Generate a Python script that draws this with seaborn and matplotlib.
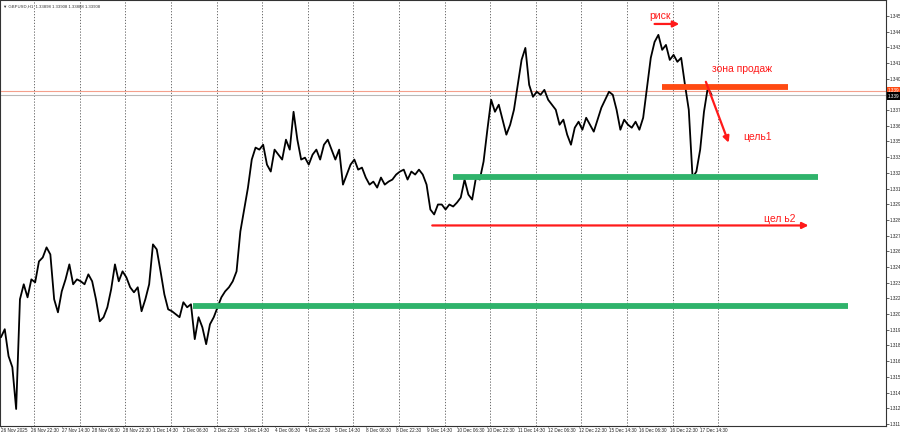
import math
import matplotlib
matplotlib.use('Agg')
import matplotlib.pyplot as plt
import matplotlib.transforms as mtransforms
import numpy as np
import pandas as pd
import seaborn as sns

# GBPUSD H1 closes, one value every 2 bars
CLOSE = [
    1.31883, 1.31950, 1.31725, 1.31633, 1.31284, 1.32200, 1.32325, 1.32216, 1.32366, 1.32341,
    1.32516, 1.32549, 1.32633, 1.32574, 1.32200, 1.32091, 1.32266, 1.32366, 1.32491, 1.32325,
    1.32366, 1.32350, 1.32325, 1.32408, 1.32350, 1.32200, 1.32016, 1.32050, 1.32133, 1.32283,
    1.32491, 1.32350, 1.32433, 1.32383, 1.32300, 1.32258, 1.32300, 1.32100, 1.32200, 1.32325,
    1.32658, 1.32616, 1.32433, 1.32241, 1.32116, 1.32100, 1.32075, 1.32050, 1.32175, 1.32133,
    1.32158, 1.31867, 1.32050, 1.31966, 1.31825, 1.31991, 1.32050, 1.32133, 1.32216, 1.32266,
    1.32300, 1.32350, 1.32433, 1.32766, 1.32949, 1.33132, 1.33366, 1.33466, 1.33449, 1.33490,
    1.33324, 1.33266, 1.33449, 1.33407, 1.33366, 1.33532, 1.33449, 1.33765, 1.33532, 1.33366,
    1.33382, 1.33324, 1.33407, 1.33449, 1.33366, 1.33490, 1.33532, 1.33449, 1.33366, 1.33449,
    1.33157, 1.33241, 1.33324, 1.33366, 1.33282, 1.33299, 1.33216, 1.33157, 1.33182, 1.33132,
    1.33216, 1.33157, 1.33182, 1.33199, 1.33241, 1.33266, 1.33282, 1.33199, 1.33266, 1.33241,
    1.33282, 1.33241, 1.33157, 1.32949, 1.32908, 1.32991, 1.32991, 1.32949, 1.32991, 1.32974,
    1.33007, 1.33049, 1.33199, 1.33074, 1.33032, 1.33216, 1.33199, 1.33349, 1.33615, 1.33865,
    1.33765, 1.33824, 1.33699, 1.33574, 1.33657, 1.33782, 1.33990, 1.34198, 1.34298, 1.33990,
    1.33890, 1.33932, 1.33907, 1.33948, 1.33865, 1.33824, 1.33782, 1.33657, 1.33699, 1.33574,
    1.33490, 1.33632, 1.33682, 1.33615, 1.33715, 1.33657, 1.33599, 1.33699, 1.33799, 1.33865,
    1.33932, 1.33907, 1.33782, 1.33615, 1.33699, 1.33657, 1.33632, 1.33682, 1.33615, 1.33715,
    1.33965, 1.34215, 1.34348, 1.34407, 1.34282, 1.34323, 1.34198, 1.34240, 1.34182, 1.34215,
    1.33990, 1.33782, 1.33216, 1.33266, 1.33449, 1.33765, 1.33965, 1.33907,
]
BAR_STEP = 2

X_LABELS = ['26 Nov 2025', '26 Nov 22:30', '27 Nov 14:30', '28 Nov 06:30', '28 Nov 22:30',
            '1 Dec 14:30', '2 Dec 06:30', '2 Dec 22:30', '3 Dec 14:30', '4 Dec 06:30',
            '4 Dec 22:30', '5 Dec 14:30', '8 Dec 06:30', '8 Dec 22:30', '9 Dec 14:30',
            '10 Dec 06:30', '10 Dec 22:30', '11 Dec 14:30', '12 Dec 06:30', '12 Dec 22:30',
            '15 Dec 14:30', '16 Dec 06:30', '16 Dec 22:30', '17 Dec 14:30']
X_LABEL_EVERY = 16
DAY_BREAKS = [17.5 + 24 * i for i in range(16)]

Y_TOP_TICK = 1.34565
Y_TICK_STEP = 0.00131
N_Y_TICKS = 27

BID = 1.33908
ASK = 1.33942
HEADER = '\u25bc GBPUSD,H1  1.33898 1.33908 1.33888 1.33908'

# drawn objects: (bar_from, bar_to, price)
GREEN_LEVELS = [(238, 430, 1.33218), (101, 446, 1.32144)]
SELL_ZONE = (348, 414, 1.33973)
TARGET2 = (227, 425, 1.32816)
TARGET1 = ((371, 1.34015), (383, 1.33507))
RISK = (344, 357, 1.34498)
TEXTS = [('риск', 341, 1.34565), ('зона продаж', 374, 1.34123),
         ('цель1', 390.5, 1.33557), ('цел ь2', 401.6, 1.32866)]


def short(v):
    # the terminal's narrow scale only shows the first digits
    return f'{math.floor(v * 1000) / 1000:.3f}'


df = pd.DataFrame({'bar': np.arange(len(CLOSE)) * BAR_STEP, 'close': CLOSE})

sns.set_style('white')
plt.rcParams['font.family'] = ['Liberation Sans', 'DejaVu Sans']

fig = plt.figure(figsize=(9, 4.34), dpi=100)
ax = fig.add_axes([0, 1 - 426 / 434, 886 / 900, 426 / 434])

for b in DAY_BREAKS:
    ax.axvline(b, color='#555555', lw=0.6, ls=(0, (1.5, 2)), zorder=1)

ax.axhline(ASK, color='#f4a08c', lw=0.8, zorder=1)
ax.axhline(BID, color='#b8b8b8', lw=0.8, zorder=1)

sns.lineplot(data=df, x='bar', y='close', color='black', lw=1.3, ax=ax, zorder=3)

red = '#ff1a1a'
for b0, b1, p in GREEN_LEVELS:
    ax.plot([b0, b1], [p, p], color='#2fb36b', lw=4.2, solid_capstyle='butt', zorder=4)
ax.plot([SELL_ZONE[0], SELL_ZONE[1]], [SELL_ZONE[2]] * 2, color='#ff4a12', lw=4.2,
        solid_capstyle='butt', zorder=4)

arrow = dict(arrowstyle='-|>', color=red, lw=1.6, mutation_scale=9, shrinkA=0, shrinkB=0)
ax.annotate('', xy=(TARGET2[1], TARGET2[2]), xytext=(TARGET2[0], TARGET2[2]), arrowprops=arrow, zorder=5)
ax.annotate('', xy=TARGET1[1], xytext=TARGET1[0], arrowprops=arrow, zorder=5)
ax.annotate('', xy=(RISK[1], RISK[2]), xytext=(RISK[0], RISK[2]), arrowprops=arrow, zorder=5)
for txt, b, p in TEXTS:
    ax.text(b, p, txt, color=red, fontsize=7.5, ha='left', va='center', zorder=6)

ax.set_xlim(-0.5, 465.8)
ax.set_ylim(1.31142, 1.34698)

xt = np.arange(len(X_LABELS)) * X_LABEL_EVERY
ax.set_xticks(xt)
ax.set_xticklabels(X_LABELS, ha='left')
yt = [Y_TOP_TICK - k * Y_TICK_STEP for k in range(N_Y_TICKS)]
ax.set_yticks(yt)
ax.set_yticklabels(['' if abs(v - BID) < 0.0004 else short(v) for v in yt])
ax.yaxis.tick_right()
ax.tick_params(axis='both', labelsize=3.3, width=0.5, colors='#222222', direction='out')
ax.tick_params(axis='y', length=2, pad=0.8, right=True)
ax.tick_params(axis='x', length=1, pad=0.3, bottom=True)
ax.set_xlabel('')
ax.set_ylabel('')
for s in ax.spines.values():
    s.set_color('#333333')
    s.set_linewidth(0.8)

trans = mtransforms.blended_transform_factory(ax.transAxes, ax.transData)
ax.text(1.002, ASK, short(ASK), transform=trans, fontsize=3.3, color='white', va='center',
        ha='left', clip_on=False, bbox=dict(facecolor='#ff4a12', edgecolor='none', pad=0.8))
ax.text(1.002, BID - 0.00012, short(BID), transform=trans, fontsize=3.3, color='white',
        va='center', ha='left', clip_on=False, bbox=dict(facecolor='black', edgecolor='none', pad=0.8))

ax.text(0.003, 0.99, HEADER, transform=ax.transAxes, fontsize=3.1, color='#333333',
        ha='left', va='top')

fig.savefig('out.png', dpi=100)
